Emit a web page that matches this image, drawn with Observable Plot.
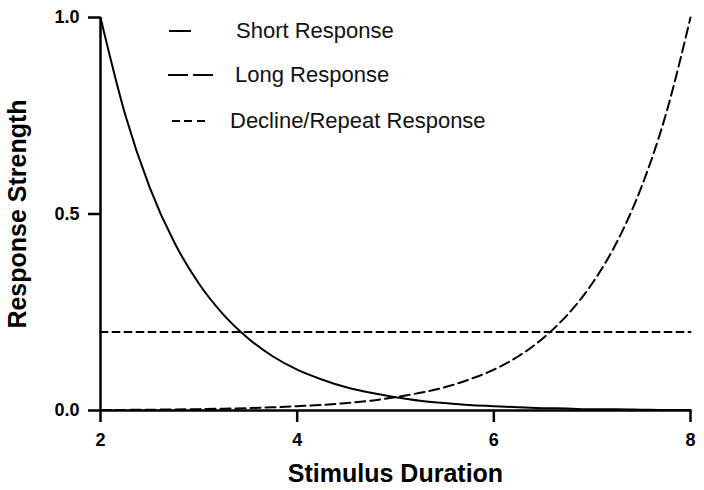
<!DOCTYPE html>
<html>
<head>
<meta charset="utf-8">
<script src="https://cdn.jsdelivr.net/npm/d3@7"></script>
<script src="https://cdn.jsdelivr.net/npm/@observablehq/plot@0.6"></script>
<style>
  html, body { margin: 0; padding: 0; background: #fff; }
  #wrap { position: relative; width: 704px; height: 490px; overflow: hidden; }
  .leg-text { position: absolute; font-family: 'Liberation Sans', Arial, Helvetica, sans-serif;
              font-size: 22px; line-height: 22px; font-weight: normal; color: #111; white-space: nowrap; }
  .leg-line { position: absolute; height: 2px; }
</style>
</head>
<body>
<div id="wrap"></div>
<script>
// ---- Data ----
const durations = [2, 2.25, 2.5, 2.75, 3, 3.25, 3.5, 3.75, 4, 4.25, 4.5, 4.75, 5,
                   5.25, 5.5, 5.75, 6, 6.25, 6.5, 6.75, 7, 7.25, 7.5, 7.75, 8];
const shortResponse = [1, 0.754, 0.568, 0.428, 0.323, 0.244, 0.184, 0.138, 0.104, 0.079,
                       0.059, 0.045, 0.034, 0.025, 0.019, 0.014, 0.011, 0.008, 0.006,
                       0.005, 0.003, 0.003, 0.002, 0.001, 0.001];
const longResponse = [0.001, 0.0015, 0.002, 0.0026, 0.0035, 0.0047, 0.0062, 0.0082, 0.011,
                      0.014, 0.019, 0.025, 0.034, 0.045, 0.059, 0.079, 0.104, 0.138, 0.184,
                      0.244, 0.323, 0.428, 0.568, 0.754, 1];
const declineX = [2, 8];
const declineResponse = [0.2, 0.2];
const xTicks = [2, 4, 6, 8];
const yTicks = [0, 0.5, 1.0];
const seriesNames = ["Short Response", "Long Response", "Decline/Repeat Response"];
const xTitle = "Stimulus Duration";
const yTitle = "Response Strength";

(function () {
  const shortData = durations.map((x, i) => ({x, y: shortResponse[i]}));
  const longData = durations.map((x, i) => ({x, y: longResponse[i]}));
  const declineData = declineX.map((x, i) => ({x, y: declineResponse[i]}));
  const fontFam = "'Liberation Sans', Arial, Helvetica, sans-serif";

  const chart = Plot.plot({
    width: 704, height: 490, marginLeft: 100, marginRight: 14, marginTop: 17, marginBottom: 80,
    style: {fontFamily: fontFam, fontWeight: "bold", fontSize: "18px", color: "#000", background: "#fff"},
    x: {domain: [2, 8]},
    y: {domain: [0, 1]},
    marks: [
      Plot.line(declineData, {x: "x", y: "y", stroke: "#000", strokeWidth: 2, strokeDasharray: "7,5"}),
      Plot.line(longData, {x: "x", y: "y", stroke: "#000", strokeWidth: 2, strokeDasharray: "10,5", curve: "monotone-x"}),
      Plot.line(shortData, {x: "x", y: "y", stroke: "#000", strokeWidth: 2, curve: "monotone-x"}),
      Plot.axisX({ticks: xTicks, tickFormat: d3.format("d"), tickSize: 12, tickPadding: 11,
                  strokeWidth: 2.5, fontSize: 18, fontWeight: "bold", label: null}),
      Plot.axisY({ticks: yTicks, tickFormat: d3.format(".1f"), tickSize: 12, tickPadding: 9,
                  strokeWidth: 2.5, fontSize: 18, fontWeight: "bold", label: null}),
      Plot.ruleY([0], {stroke: "#000", strokeWidth: 2.5}),
      Plot.ruleX([2], {stroke: "#000", strokeWidth: 2.5}),
      Plot.text([xTitle], {frameAnchor: "bottom", lineAnchor: "bottom", dy: 71, text: d => d,
                           fontSize: 25, fontWeight: "bold", fill: "#000"}),
      Plot.text([yTitle], {frameAnchor: "left", textAnchor: "middle", lineAnchor: "bottom", dx: -75, rotate: -90,
                           text: d => d, fontSize: 25, fontWeight: "bold", fill: "#000"})
    ]
  });

  const wrap = document.getElementById("wrap");
  wrap.appendChild(chart);

  // ---- Legend as HTML overlay ----
  const legendItems = [
    {name: seriesNames[0], ly: 31, x1: 169, w: 22, bg: "#000", tx: 236},
    {name: seriesNames[1], ly: 75, x1: 168, w: 45, bg: "repeating-linear-gradient(to right, #000 0 20px, transparent 20px 25px)", tx: 235},
    {name: seriesNames[2], ly: 121, x1: 172, w: 34, bg: "repeating-linear-gradient(to right, #000 0 8px, transparent 8px 12.5px)", tx: 230}
  ];
  const legend = d3.select(wrap);
  legendItems.forEach(d => {
    legend.append("div").attr("class", "leg-line")
      .style("left", d.x1 + "px").style("top", (d.ly - 1) + "px")
      .style("width", d.w + "px").style("background", d.bg);
    legend.append("div").attr("class", "leg-text")
      .style("left", d.tx + "px").style("top", (d.ly + 8 - 18.6) + "px")
      .text(d.name);
  });
})();
</script>
</body>
</html>
